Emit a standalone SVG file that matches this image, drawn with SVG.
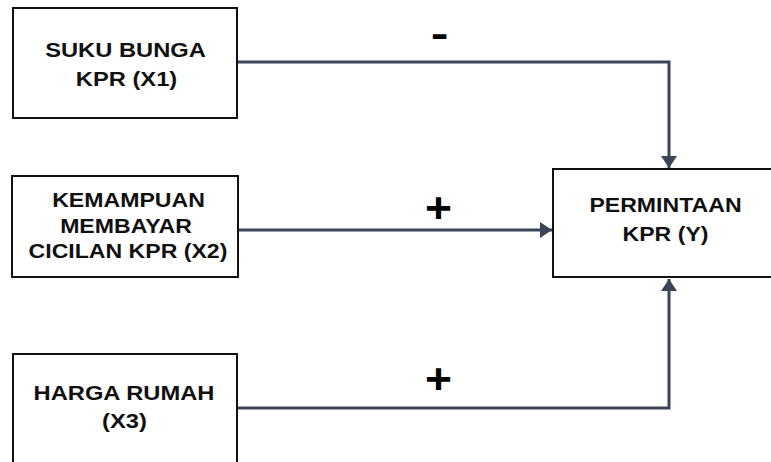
<svg xmlns="http://www.w3.org/2000/svg" width="771" height="462" viewBox="0 0 771 462">
<style>
.box{fill:#fff;stroke:#111;stroke-width:2}
.t{font-family:"Liberation Sans",Arial,sans-serif;font-weight:bold;font-size:21px;fill:#111;text-anchor:middle}
.c{fill:none;stroke:#3a4558;stroke-width:3}
.s{font-family:"Liberation Sans",Arial,sans-serif;font-weight:bold;fill:#000;text-anchor:middle}
</style>
<defs>
<marker id="ah" viewBox="0 0 12 16" refX="12" refY="8" markerWidth="12" markerHeight="16" markerUnits="userSpaceOnUse" orient="auto">
<path d="M0,0 L12,8 L0,16 z" fill="#3a4558"/>
</marker>
</defs>
<rect width="771" height="462" fill="#fff"/>
<g id="connectors">
<path class="c" d="M238,62 H669 V168" marker-end="url(#ah)"/>
<path class="c" d="M238,230 H552" marker-end="url(#ah)"/>
<path class="c" d="M238,408 H669 V279" marker-end="url(#ah)"/>
<text class="s" transform="translate(439.5 47) scale(1.4 1)" font-size="38">-</text>
<text class="s" transform="translate(438.5 222) scale(1.1 1)" font-size="42">+</text>
<text class="s" transform="translate(438.5 393) scale(1.1 1)" font-size="42">+</text>
</g>
<g id="x1">
<rect class="box" x="13" y="8" width="224" height="110"/>
<text class="t" transform="translate(125.5 57) scale(1.13 1)">SUKU BUNGA</text>
<text class="t" transform="translate(126.5 86) scale(1.13 1)">KPR (X1)</text>
</g>
<g id="x2">
<rect class="box" x="12" y="176" width="226" height="101"/>
<text class="t" transform="translate(128.5 207) scale(1.1 1)">KEMAMPUAN</text>
<text class="t" transform="translate(126 233) scale(1.1 1)">MEMBAYAR</text>
<text class="t" transform="translate(128 258) scale(1.1 1)">CICILAN KPR (X2)</text>
</g>
<g id="x3">
<rect class="box" x="13" y="354" width="224" height="120"/>
<text class="t" transform="translate(124 400) scale(1.13 1)">HARGA RUMAH</text>
<text class="t" transform="translate(124.5 428) scale(1.13 1)">(X3)</text>
</g>
<g id="y">
<rect class="box" x="553" y="169" width="230" height="108"/>
<text class="t" transform="translate(665.5 212) scale(1.1 1)">PERMINTAAN</text>
<text class="t" transform="translate(665.5 241) scale(1.1 1)">KPR (Y)</text>
</g>
</svg>
